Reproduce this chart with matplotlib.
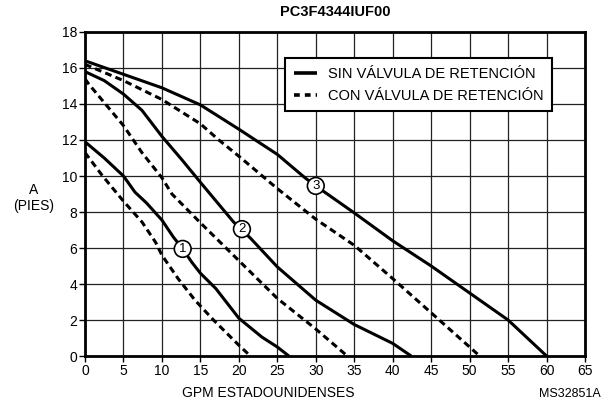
import matplotlib
matplotlib.use('Agg')
import matplotlib.pyplot as plt

plt.rcParams['font.family'] = ['Liberation Sans', 'DejaVu Sans']

# curva 1
x_sin_1 = [0, 2.5, 5, 6.5, 8, 10, 11.5, 12.7, 13.9, 15, 17, 20, 23, 25, 26.5]
y_sin_1 = [11.9, 11.0, 10.0, 9.1, 8.5, 7.55, 6.6, 5.95, 5.2, 4.6, 3.75, 2.1, 1.05, 0.5, 0]
x_con_1 = [0, 2.2, 5, 7.4, 9.2, 10, 12.1, 14.3, 16.7, 20, 21.5]
y_con_1 = [11.3, 10.05, 8.6, 7.45, 6.3, 5.6, 4.3, 3.1, 2.0, 0.6, 0]

# curva 2
x_sin_2 = [0, 2.5, 5, 7.4, 10, 12.6, 15, 19.3, 21.5, 25, 30, 35, 40, 42.4]
y_sin_2 = [15.8, 15.3, 14.55, 13.65, 12.2, 10.9, 9.65, 7.45, 6.55, 4.95, 3.1, 1.75, 0.7, 0]
x_con_2 = [0, 0.5, 5, 7.4, 10, 11.3, 15, 20, 25, 30, 34.1]
y_con_2 = [15.4, 15.1, 12.8, 11.3, 9.9, 9.0, 7.4, 5.3, 3.2, 1.5, 0]

# curva 3
x_sin_3 = [0, 5, 10, 15, 20, 25, 28.6, 30, 35, 40, 45, 50, 55, 60]
y_sin_3 = [16.4, 15.65, 14.9, 13.95, 12.6, 11.2, 9.9, 9.45, 7.95, 6.4, 5.0, 3.5, 2.0, 0]
x_con_3 = [0, 5, 10, 15, 17.4, 20, 25, 30, 35, 40, 45, 50, 51.3]
y_con_3 = [16.2, 15.3, 14.25, 12.9, 12.0, 11.1, 9.3, 7.6, 6.15, 4.3, 2.4, 0.5, 0]

# etiquetas de curva
etiquetas = ['1', '2', '3']
etiqueta_x = [12.7, 20.4, 30.0]
etiqueta_y = [5.95, 7.05, 9.45]

x_ticks = list(range(0, 70, 5))
y_ticks = list(range(0, 20, 2))

DASH = (0, (2.2, 1.4))


def dibujar():
    fig = plt.figure(figsize=(6.08, 4.04), dpi=100)
    ax = fig.add_axes([0.1398, 0.1188, 0.8224, 0.802])

    for xs, ys in [(x_sin_1, y_sin_1), (x_sin_2, y_sin_2), (x_sin_3, y_sin_3)]:
        ax.plot(xs, ys, color='black', lw=2.2, solid_capstyle='butt',
                solid_joinstyle='round', zorder=3)
    for xs, ys in [(x_con_1, y_con_1), (x_con_2, y_con_2), (x_con_3, y_con_3)]:
        ax.plot(xs, ys, color='black', lw=2.2, linestyle=DASH, zorder=3)

    for t, xx, yy in zip(etiquetas, etiqueta_x, etiqueta_y):
        ax.text(xx, yy, t, ha='center', va='center', fontsize=9.5, zorder=5,
                bbox=dict(boxstyle='circle,pad=0.18', fc='white', ec='black', lw=1.2))

    ax.set_xlim(0, 65)
    ax.set_ylim(0, 18)
    ax.set_xticks(x_ticks)
    ax.set_yticks(y_ticks)
    ax.tick_params(labelsize=10, length=4, width=1, direction='out', pad=1.5)
    ax.grid(True, color='#222222', lw=0.9)
    ax.set_axisbelow(True)
    for s in ax.spines.values():
        s.set_linewidth(2.0)

    h1, = ax.plot([], [], color='black', lw=2.6, solid_capstyle='butt')
    h2, = ax.plot([], [], color='black', lw=2.6, linestyle=(0, (1.6, 1.4)))
    leg = ax.legend([h1, h2], ['SIN VÁLVULA DE RETENCIÓN', 'CON VÁLVULA DE RETENCIÓN'],
                    loc='upper left', bbox_to_anchor=(0.4, 0.92), fontsize=10.5,
                    fancybox=False, framealpha=1, edgecolor='black',
                    handlelength=1.6, borderpad=0.6, labelspacing=0.55,
                    handletextpad=0.75, borderaxespad=0)
    leg.get_frame().set_linewidth(1.5)

    fig.text(335 / 608, 1 - 12 / 404, 'PC3F4344IUF00', ha='center', va='center',
             fontsize=10.5, fontweight='bold')
    fig.text(33.5 / 608, 1 - 198 / 404, 'A\n(PIES)', ha='center', va='center',
             fontsize=10, linespacing=1.2)
    fig.text(268 / 608, 1 - 393 / 404, 'GPM ESTADOUNIDENSES', ha='center',
             va='center', fontsize=10)
    fig.text(570 / 608, 1 - 394 / 404, 'MS32851A', ha='center', va='center',
             fontsize=9)

    fig.savefig('out.png', dpi=100)
    plt.close('all')


if __name__ == '__main__':
    dibujar()
